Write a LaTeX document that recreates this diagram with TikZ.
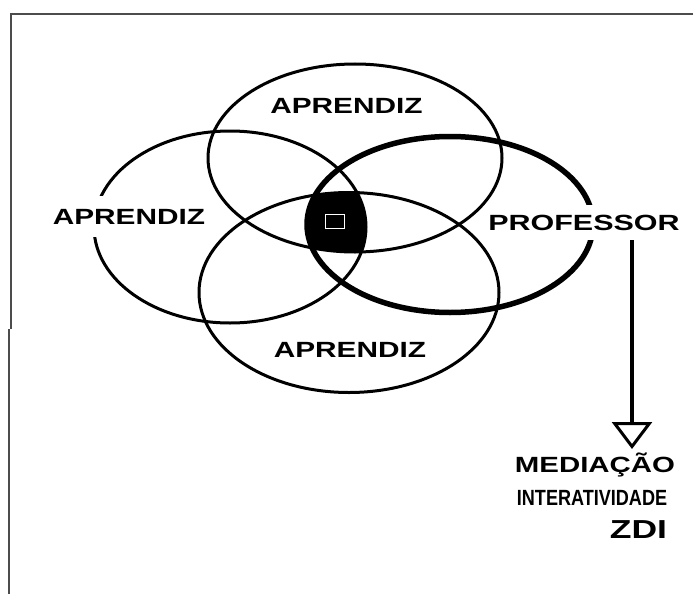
\documentclass[tikz,border=0pt]{standalone}
\usepackage{fontspec}
\setmainfont{Liberation Sans}
\usepackage{graphicx}
\usetikzlibrary{arrows.meta}

\newcommand{\largo}[2]{\scalebox{#1}[1]{#2}}

\begin{document}
\begin{tikzpicture}[x=1pt,y=-1pt,
    rotulo/.style={font=\fontsize{22}{26}\selectfont\bfseries, anchor=base, inner sep=0pt},
    fundo/.style={fill=white, inner xsep=2pt, inner ysep=13pt},
    circulo/.style={line width=3pt},
  ]
  \useasboundingbox (0,0) rectangle (693,594);
  %\draw[step=50,very thin,color=blue!20] (0,0) grid (693,594);
  \coordinate (cima)  at (355,158);
  \coordinate (esq)   at (230,227);
  \coordinate (baixo) at (349,292.5);
  \coordinate (prof)  at (450,224.5);
  \coordinate (ponta) at (632,449);

  % moldura
  \draw[line width=2pt, black!70] (693,14) -- (11,14) -- (11,329);
  \draw[line width=2pt, black!70] (8.5,329) -- (8.5,594);

  % regiao comum
  \begin{scope}
    \clip (cima) ellipse [x radius=147pt, y radius=94pt];
    \clip (esq) ellipse [x radius=136pt, y radius=96pt];
    \clip (baixo) ellipse [x radius=150pt, y radius=100pt];
    \fill (prof) ellipse [x radius=143pt, y radius=88pt];
  \end{scope}

  \draw[circulo] (cima) ellipse [x radius=147pt, y radius=94pt];
  \draw[circulo] (esq) ellipse [x radius=136pt, y radius=96pt];
  \draw[circulo] (baixo) ellipse [x radius=150pt, y radius=100pt];
  \draw[circulo, line width=5.5pt] (prof) ellipse [x radius=143pt, y radius=88pt];

  \node[draw=white, line width=1.5pt, minimum width=19pt, minimum height=14pt, inner sep=0pt] (centro) at (335,221.5) {};

  \node[rotulo] (aprendizC) at (346.5,113) {\largo{1.355}{APRENDIZ}};
  \node[rotulo, fundo] (aprendizE) at (129,224) {\largo{1.355}{APRENDIZ}};
  \node[rotulo] (aprendizB) at (350,357) {\largo{1.355}{APRENDIZ}};
  \node[rotulo, fundo, inner ysep=10pt] (professor) at (584,230) {\largo{1.385}{PROFESSOR}};

  \draw[line width=4pt, -{Triangle[open, length=27pt, width=40pt, line width=3pt]}] (professor.south -| ponta) -- (ponta);

  \node[rotulo] (mediacao) at (595,472) {\largo{1.336}{MEDIAÇÃO}};
  \node[rotulo] (interat) at (592,505) {\largo{0.821}{INTERATIVIDADE}};
  \node[rotulo, font=\fontsize{26}{31}\selectfont\bfseries] (zdi) at (638.5,538) {\largo{1.365}{ZDI}};

\end{tikzpicture}
\end{document}
